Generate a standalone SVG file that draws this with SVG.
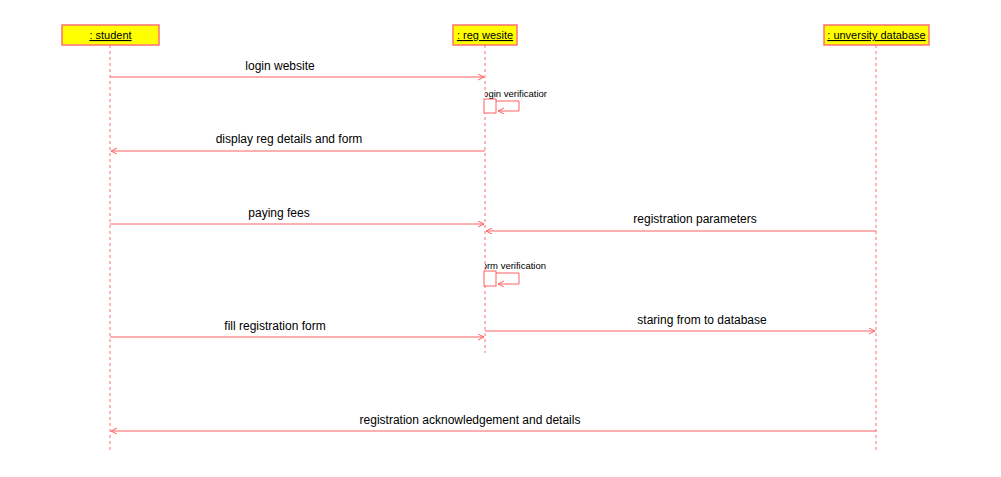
<svg xmlns="http://www.w3.org/2000/svg" width="1001" height="477" viewBox="0 0 1001 477">
<style>
.hd{fill:#ffff00;stroke:#ff7070;stroke-width:1.5}
.ht{font-family:"Liberation Sans",Arial,sans-serif;font-size:11px;fill:#000;text-decoration:underline;text-anchor:middle}
.ll{stroke:#ff7070;stroke-width:1;stroke-dasharray:3,3;fill:none}
.msg{stroke:#ff6060;stroke-width:1;fill:none}
.lbl{font-family:"Liberation Sans",Arial,sans-serif;font-size:12px;fill:#000;text-anchor:middle}
.sl{font-family:"Liberation Sans",Arial,sans-serif;font-size:9.5px;fill:#000}
.act{fill:#fff;stroke:#ff6060;stroke-width:1}
</style>
<defs>
<marker id="ah" markerWidth="8" markerHeight="8" refX="6" refY="3" orient="auto" markerUnits="userSpaceOnUse">
<path d="M0,0 L6,3 L0,6" fill="none" stroke="#ff6060" stroke-width="1"/>
</marker>
<clipPath id="c1"><rect x="485" y="85" width="62" height="15"/></clipPath>
<clipPath id="c2"><rect x="485" y="257" width="62" height="15"/></clipPath>
</defs>
<rect width="1001" height="477" fill="#fff"/>
<g id="student">
<rect class="hd" x="62" y="25" width="97" height="20"/>
<text class="ht" x="110.5" y="39">: student</text>
<line class="ll" x1="110" y1="45" x2="110" y2="450"/>
</g>
<g id="regwesite">
<rect class="hd" x="453" y="25" width="64" height="20"/>
<text class="ht" x="485" y="39">: reg wesite</text>
<line class="ll" x1="485" y1="45" x2="485" y2="353"/>
</g>
<g id="database">
<rect class="hd" x="824" y="25" width="105" height="20"/>
<text class="ht" x="876.5" y="39">: unversity database</text>
<line class="ll" x1="876" y1="45" x2="876" y2="450"/>
</g>
<g id="connectors">
<line class="msg" x1="110" y1="77" x2="484" y2="77" marker-end="url(#ah)"/>
<text class="lbl" x="280" y="70">login website</text>

<rect class="act" x="484" y="99" width="12" height="14"/>
<path class="msg" d="M496,101 H519 V111 H498" marker-end="url(#ah)"/>
<text class="sl" x="481" y="97" clip-path="url(#c1)">login verification</text>

<line class="msg" x1="485" y1="151" x2="111" y2="151" marker-end="url(#ah)"/>
<text class="lbl" x="289" y="143">display reg details and form</text>

<line class="msg" x1="110" y1="224" x2="484" y2="224" marker-end="url(#ah)"/>
<text class="lbl" x="279" y="217">paying fees</text>

<line class="msg" x1="876" y1="231" x2="486" y2="231" marker-end="url(#ah)"/>
<text class="lbl" x="695" y="223">registration parameters</text>

<rect class="act" x="484" y="271" width="12" height="15"/>
<path class="msg" d="M496,273 H519 V284 H498" marker-end="url(#ah)"/>
<text class="sl" x="479" y="269" clip-path="url(#c2)">form verification</text>

<line class="msg" x1="485" y1="331" x2="875" y2="331" marker-end="url(#ah)"/>
<text class="lbl" x="702" y="324">staring from to database</text>

<line class="msg" x1="110" y1="337" x2="484" y2="337" marker-end="url(#ah)"/>
<text class="lbl" x="275" y="330">fill registration form</text>

<line class="msg" x1="876" y1="431" x2="111" y2="431" marker-end="url(#ah)"/>
<text class="lbl" x="470" y="424">registration acknowledgement and details</text>
</g>
</svg>
